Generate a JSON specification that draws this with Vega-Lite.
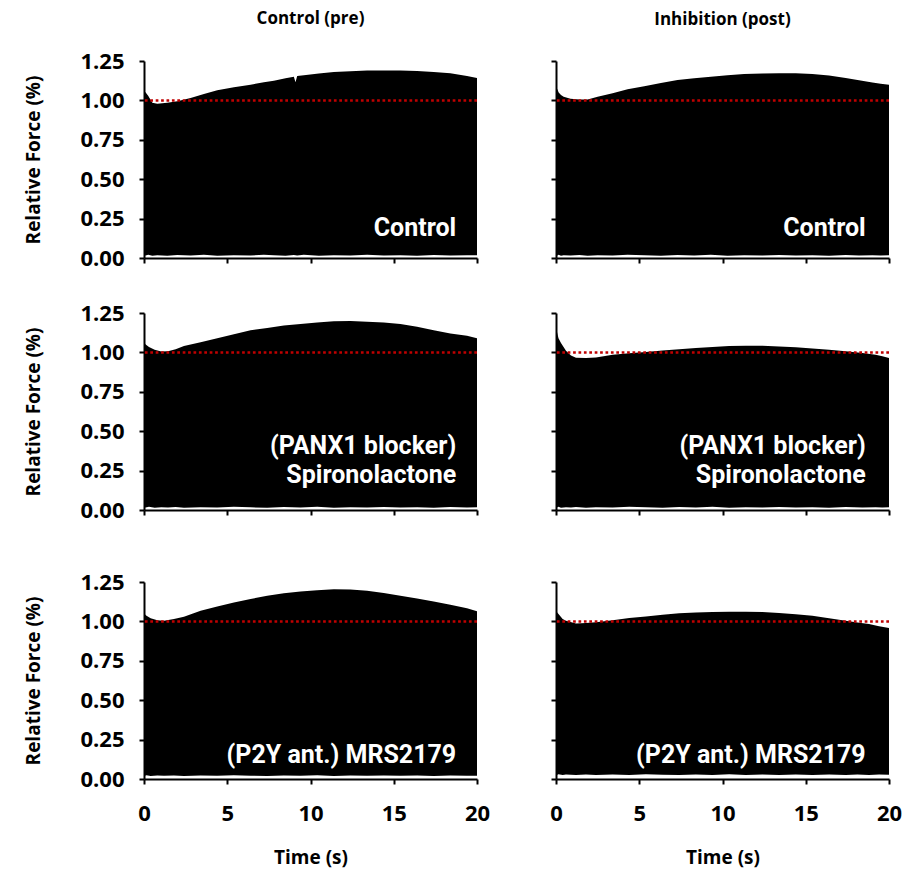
{
  "$schema": "https://vega.github.io/schema/vega-lite/v6.json",
  "background": "white",
  "padding": {"left": 24, "top": 10, "right": 5, "bottom": 5},
  "config": {
    "view": {"stroke": null},
    "font": "Open Sans",
    "axis": {"domainColor": "black", "domainWidth": 2, "tickColor": "black", "tickWidth": 2, "tickSize": 5, "grid": false, "labelFont": "Open Sans", "labelFontWeight": "bold", "labelFontSize": 22, "labelColor": "black", "labelOverlap": false, "titleFont": "Open Sans", "titleFontWeight": "bold", "titleFontSize": 19, "titleColor": "black"},
    "axisX": {"labelPadding": 19, "titlePadding": 24, "labelFlush": false},
    "axisY": {"labelPadding": 15, "titlePadding": 36, "labelOverlap": false},
    "title": {"font": "Open Sans", "fontWeight": "bold", "fontSize": 17, "color": "black", "frame": "group", "anchor": "middle"}
  },
  "datasets": {
    "labels": [
      {"p": "A1", "label": "Control"},
      {"p": "B1", "label": "Control"},
      {"p": "A2", "label": "(PANX1 blocker)\nSpironolactone"},
      {"p": "B2", "label": "(PANX1 blocker)\nSpironolactone"},
      {"p": "A3", "label": "(P2Y ant.) MRS2179"},
      {"p": "B3", "label": "(P2Y ant.) MRS2179"}
    ],
    "env": [
      {"p": "A1", "t": 0, "hi": 1.06, "lo": 0.018},
      {"p": "A1", "t": 0.1, "hi": 1.05, "lo": 0.016},
      {"p": "A1", "t": 0.25, "hi": 1.03, "lo": 0.02},
      {"p": "A1", "t": 0.5, "hi": 0.985, "lo": 0.015},
      {"p": "A1", "t": 0.8, "hi": 0.978, "lo": 0.018},
      {"p": "A1", "t": 1.4, "hi": 0.985, "lo": 0.014},
      {"p": "A1", "t": 2, "hi": 0.995, "lo": 0.019},
      {"p": "A1", "t": 2.8, "hi": 1.015, "lo": 0.016},
      {"p": "A1", "t": 3.6, "hi": 1.04, "lo": 0.02},
      {"p": "A1", "t": 4.4, "hi": 1.064, "lo": 0.015},
      {"p": "A1", "t": 5.4, "hi": 1.083, "lo": 0.018},
      {"p": "A1", "t": 6.4, "hi": 1.1, "lo": 0.016},
      {"p": "A1", "t": 7.2, "hi": 1.115, "lo": 0.02},
      {"p": "A1", "t": 7.8, "hi": 1.125, "lo": 0.017},
      {"p": "A1", "t": 8.5, "hi": 1.14, "lo": 0.015},
      {"p": "A1", "t": 9.0, "hi": 1.15, "lo": 0.019},
      {"p": "A1", "t": 9.1, "hi": 1.115, "lo": 0.018},
      {"p": "A1", "t": 9.2, "hi": 1.155, "lo": 0.016},
      {"p": "A1", "t": 9.6, "hi": 1.16, "lo": 0.02},
      {"p": "A1", "t": 10.5, "hi": 1.17, "lo": 0.015},
      {"p": "A1", "t": 11.4, "hi": 1.18, "lo": 0.018},
      {"p": "A1", "t": 12.4, "hi": 1.185, "lo": 0.016},
      {"p": "A1", "t": 13.4, "hi": 1.19, "lo": 0.02},
      {"p": "A1", "t": 14.4, "hi": 1.19, "lo": 0.016},
      {"p": "A1", "t": 15.4, "hi": 1.19, "lo": 0.018},
      {"p": "A1", "t": 16.4, "hi": 1.187, "lo": 0.015},
      {"p": "A1", "t": 17.4, "hi": 1.18, "lo": 0.019},
      {"p": "A1", "t": 18.4, "hi": 1.172, "lo": 0.016},
      {"p": "A1", "t": 19.4, "hi": 1.155, "lo": 0.018},
      {"p": "A1", "t": 20, "hi": 1.142, "lo": 0.017},

      {"p": "B1", "t": 0, "hi": 1.085, "lo": 0.018},
      {"p": "B1", "t": 0.08, "hi": 1.07, "lo": 0.016},
      {"p": "B1", "t": 0.16, "hi": 1.05, "lo": 0.02},
      {"p": "B1", "t": 0.3, "hi": 1.035, "lo": 0.015},
      {"p": "B1", "t": 0.46, "hi": 1.023, "lo": 0.018},
      {"p": "B1", "t": 0.87, "hi": 1.01, "lo": 0.016},
      {"p": "B1", "t": 1.4, "hi": 1.005, "lo": 0.019},
      {"p": "B1", "t": 1.9, "hi": 1.006, "lo": 0.015},
      {"p": "B1", "t": 2.5, "hi": 1.023, "lo": 0.018},
      {"p": "B1", "t": 3.4, "hi": 1.045, "lo": 0.016},
      {"p": "B1", "t": 4.3, "hi": 1.07, "lo": 0.02},
      {"p": "B1", "t": 5.3, "hi": 1.09, "lo": 0.017},
      {"p": "B1", "t": 6.3, "hi": 1.11, "lo": 0.015},
      {"p": "B1", "t": 7.3, "hi": 1.13, "lo": 0.019},
      {"p": "B1", "t": 8.3, "hi": 1.14, "lo": 0.016},
      {"p": "B1", "t": 9.3, "hi": 1.15, "lo": 0.02},
      {"p": "B1", "t": 10.3, "hi": 1.16, "lo": 0.015},
      {"p": "B1", "t": 11.3, "hi": 1.167, "lo": 0.018},
      {"p": "B1", "t": 12.4, "hi": 1.17, "lo": 0.016},
      {"p": "B1", "t": 13.4, "hi": 1.172, "lo": 0.019},
      {"p": "B1", "t": 14.4, "hi": 1.172, "lo": 0.016},
      {"p": "B1", "t": 15.4, "hi": 1.168, "lo": 0.018},
      {"p": "B1", "t": 16.4, "hi": 1.158, "lo": 0.015},
      {"p": "B1", "t": 17.4, "hi": 1.142, "lo": 0.019},
      {"p": "B1", "t": 18.2, "hi": 1.128, "lo": 0.016},
      {"p": "B1", "t": 19, "hi": 1.113, "lo": 0.018},
      {"p": "B1", "t": 19.5, "hi": 1.105, "lo": 0.016},
      {"p": "B1", "t": 20, "hi": 1.1, "lo": 0.017},

      {"p": "A2", "t": 0, "hi": 1.065, "lo": 0.018},
      {"p": "A2", "t": 0.1, "hi": 1.05, "lo": 0.016},
      {"p": "A2", "t": 0.3, "hi": 1.035, "lo": 0.02},
      {"p": "A2", "t": 0.64, "hi": 1.017, "lo": 0.015},
      {"p": "A2", "t": 1.04, "hi": 1.006, "lo": 0.018},
      {"p": "A2", "t": 1.44, "hi": 1.008, "lo": 0.016},
      {"p": "A2", "t": 1.9, "hi": 1.02, "lo": 0.019},
      {"p": "A2", "t": 2.4, "hi": 1.04, "lo": 0.015},
      {"p": "A2", "t": 3.4, "hi": 1.065, "lo": 0.018},
      {"p": "A2", "t": 4.4, "hi": 1.09, "lo": 0.016},
      {"p": "A2", "t": 5.4, "hi": 1.115, "lo": 0.02},
      {"p": "A2", "t": 6.4, "hi": 1.14, "lo": 0.017},
      {"p": "A2", "t": 7.4, "hi": 1.155, "lo": 0.015},
      {"p": "A2", "t": 8.4, "hi": 1.17, "lo": 0.019},
      {"p": "A2", "t": 9.4, "hi": 1.18, "lo": 0.016},
      {"p": "A2", "t": 10.4, "hi": 1.19, "lo": 0.02},
      {"p": "A2", "t": 11.4, "hi": 1.197, "lo": 0.015},
      {"p": "A2", "t": 12.4, "hi": 1.2, "lo": 0.018},
      {"p": "A2", "t": 13.4, "hi": 1.195, "lo": 0.016},
      {"p": "A2", "t": 14.4, "hi": 1.19, "lo": 0.019},
      {"p": "A2", "t": 15.4, "hi": 1.18, "lo": 0.016},
      {"p": "A2", "t": 16.4, "hi": 1.162, "lo": 0.018},
      {"p": "A2", "t": 17.4, "hi": 1.14, "lo": 0.015},
      {"p": "A2", "t": 18.4, "hi": 1.12, "lo": 0.019},
      {"p": "A2", "t": 19.4, "hi": 1.106, "lo": 0.016},
      {"p": "A2", "t": 20, "hi": 1.09, "lo": 0.017},

      {"p": "B2", "t": 0, "hi": 1.2, "lo": 0.018},
      {"p": "B2", "t": 0.05, "hi": 1.134, "lo": 0.016},
      {"p": "B2", "t": 0.15, "hi": 1.09, "lo": 0.02},
      {"p": "B2", "t": 0.3, "hi": 1.06, "lo": 0.015},
      {"p": "B2", "t": 0.6, "hi": 1.01, "lo": 0.018},
      {"p": "B2", "t": 0.9, "hi": 0.98, "lo": 0.016},
      {"p": "B2", "t": 1.2, "hi": 0.966, "lo": 0.019},
      {"p": "B2", "t": 1.8, "hi": 0.965, "lo": 0.015},
      {"p": "B2", "t": 2.4, "hi": 0.968, "lo": 0.018},
      {"p": "B2", "t": 3.4, "hi": 0.985, "lo": 0.016},
      {"p": "B2", "t": 4.4, "hi": 0.995, "lo": 0.02},
      {"p": "B2", "t": 5.4, "hi": 1.002, "lo": 0.017},
      {"p": "B2", "t": 6.4, "hi": 1.012, "lo": 0.015},
      {"p": "B2", "t": 7.4, "hi": 1.02, "lo": 0.019},
      {"p": "B2", "t": 8.4, "hi": 1.028, "lo": 0.016},
      {"p": "B2", "t": 9.4, "hi": 1.035, "lo": 0.02},
      {"p": "B2", "t": 10.4, "hi": 1.04, "lo": 0.015},
      {"p": "B2", "t": 11.4, "hi": 1.042, "lo": 0.018},
      {"p": "B2", "t": 12.4, "hi": 1.042, "lo": 0.016},
      {"p": "B2", "t": 13.4, "hi": 1.038, "lo": 0.019},
      {"p": "B2", "t": 14.4, "hi": 1.032, "lo": 0.016},
      {"p": "B2", "t": 15.4, "hi": 1.025, "lo": 0.018},
      {"p": "B2", "t": 16.4, "hi": 1.017, "lo": 0.015},
      {"p": "B2", "t": 17.4, "hi": 1.007, "lo": 0.019},
      {"p": "B2", "t": 18.4, "hi": 0.996, "lo": 0.016},
      {"p": "B2", "t": 19.2, "hi": 0.985, "lo": 0.018},
      {"p": "B2", "t": 19.6, "hi": 0.975, "lo": 0.016},
      {"p": "B2", "t": 20, "hi": 0.964, "lo": 0.017},

      {"p": "A3", "t": 0, "hi": 1.05, "lo": 0.022},
      {"p": "A3", "t": 0.05, "hi": 1.045, "lo": 0.02},
      {"p": "A3", "t": 0.15, "hi": 1.036, "lo": 0.024},
      {"p": "A3", "t": 0.4, "hi": 1.02, "lo": 0.019},
      {"p": "A3", "t": 0.8, "hi": 1.008, "lo": 0.022},
      {"p": "A3", "t": 1.2, "hi": 1.004, "lo": 0.02},
      {"p": "A3", "t": 1.8, "hi": 1.015, "lo": 0.023},
      {"p": "A3", "t": 2.4, "hi": 1.03, "lo": 0.019},
      {"p": "A3", "t": 3.4, "hi": 1.068, "lo": 0.022},
      {"p": "A3", "t": 4.4, "hi": 1.095, "lo": 0.02},
      {"p": "A3", "t": 5.4, "hi": 1.12, "lo": 0.024},
      {"p": "A3", "t": 6.4, "hi": 1.142, "lo": 0.021},
      {"p": "A3", "t": 7.4, "hi": 1.163, "lo": 0.019},
      {"p": "A3", "t": 8.4, "hi": 1.178, "lo": 0.023},
      {"p": "A3", "t": 9.4, "hi": 1.19, "lo": 0.02},
      {"p": "A3", "t": 10.4, "hi": 1.198, "lo": 0.024},
      {"p": "A3", "t": 11.4, "hi": 1.204, "lo": 0.019},
      {"p": "A3", "t": 12.4, "hi": 1.202, "lo": 0.022},
      {"p": "A3", "t": 13.4, "hi": 1.195, "lo": 0.02},
      {"p": "A3", "t": 14.4, "hi": 1.18, "lo": 0.023},
      {"p": "A3", "t": 15.4, "hi": 1.163, "lo": 0.02},
      {"p": "A3", "t": 16.4, "hi": 1.146, "lo": 0.022},
      {"p": "A3", "t": 17.4, "hi": 1.127, "lo": 0.019},
      {"p": "A3", "t": 18.4, "hi": 1.106, "lo": 0.023},
      {"p": "A3", "t": 19.4, "hi": 1.083, "lo": 0.02},
      {"p": "A3", "t": 20, "hi": 1.064, "lo": 0.021},

      {"p": "B3", "t": 0, "hi": 1.08, "lo": 0.028},
      {"p": "B3", "t": 0.05, "hi": 1.06, "lo": 0.026},
      {"p": "B3", "t": 0.15, "hi": 1.047, "lo": 0.03},
      {"p": "B3", "t": 0.4, "hi": 1.015, "lo": 0.025},
      {"p": "B3", "t": 0.6, "hi": 1.004, "lo": 0.028},
      {"p": "B3", "t": 1.2, "hi": 0.987, "lo": 0.026},
      {"p": "B3", "t": 1.8, "hi": 0.99, "lo": 0.029},
      {"p": "B3", "t": 2.4, "hi": 0.994, "lo": 0.025},
      {"p": "B3", "t": 3.4, "hi": 1.008, "lo": 0.028},
      {"p": "B3", "t": 4.4, "hi": 1.021, "lo": 0.026},
      {"p": "B3", "t": 5.4, "hi": 1.031, "lo": 0.03},
      {"p": "B3", "t": 6.4, "hi": 1.042, "lo": 0.027},
      {"p": "B3", "t": 7.4, "hi": 1.051, "lo": 0.025},
      {"p": "B3", "t": 8.4, "hi": 1.057, "lo": 0.029},
      {"p": "B3", "t": 9.4, "hi": 1.06, "lo": 0.026},
      {"p": "B3", "t": 10.4, "hi": 1.062, "lo": 0.03},
      {"p": "B3", "t": 11.4, "hi": 1.062, "lo": 0.025},
      {"p": "B3", "t": 12.4, "hi": 1.06, "lo": 0.028},
      {"p": "B3", "t": 13.4, "hi": 1.054, "lo": 0.026},
      {"p": "B3", "t": 14.4, "hi": 1.046, "lo": 0.029},
      {"p": "B3", "t": 15.4, "hi": 1.036, "lo": 0.026},
      {"p": "B3", "t": 16.4, "hi": 1.02, "lo": 0.028},
      {"p": "B3", "t": 17.4, "hi": 1.004, "lo": 0.025},
      {"p": "B3", "t": 18.1, "hi": 0.993, "lo": 0.029},
      {"p": "B3", "t": 18.8, "hi": 0.983, "lo": 0.026},
      {"p": "B3", "t": 19.4, "hi": 0.97, "lo": 0.028},
      {"p": "B3", "t": 20, "hi": 0.958, "lo": 0.027}
    ]
  },
  "spacing": 33,
  "vconcat": [
    {
      "bounds": "flush",
      "spacing": 79,
      "hconcat": [
        {
          "width": 333, "height": 197,
          "title": {"text": "Control (pre)", "offset": 22},
          "layer": [
            {"data": {"name": "env"}, "transform": [{"filter": "datum.p === 'A1'"}],
             "mark": {"type": "area", "color": "black"},
             "encoding": {
               "x": {"field": "t", "type": "quantitative", "scale": {"domain": [0, 20], "nice": false}, "axis": {"values": [0, 5, 10, 15, 20], "tickCount": 10, "labels": false, "title": null}},
               "y": {"field": "hi", "type": "quantitative", "scale": {"domain": [0, 1.25], "nice": false}, "axis": {"values": [0, 0.25, 0.5, 0.75, 1, 1.25], "tickCount": 10, "format": ".2f", "labelOverlap": false, "title": "Relative Force (%)"}},
               "y2": {"field": "lo"}}},
            {"data": {"name": "labels"}, "transform": [{"filter": "datum.p === 'A1'"}],
             "mark": {"type": "rule", "color": "#c00000", "strokeWidth": 2.5, "strokeDash": [2.7, 2.7]},
             "encoding": {"y": {"datum": 1}}},
            {"data": {"name": "labels"}, "transform": [{"filter": "datum.p === 'A1'"}],
             "mark": {"type": "text", "align": "right", "baseline": "alphabetic", "font": "Roboto", "fontSize": 25, "fontWeight": "bold", "color": "white", "lineBreak": "\n", "lineHeight": 29},
             "encoding": {"text": {"field": "label"}, "x": {"datum": 18.75}, "y": {"datum": 0.14}}}
          ]
        },
        {
          "width": 333, "height": 197,
          "title": {"text": "Inhibition (post)", "offset": 31},
          "layer": [
            {"data": {"name": "env"}, "transform": [{"filter": "datum.p === 'B1'"}],
             "mark": {"type": "area", "color": "black"},
             "encoding": {
               "x": {"field": "t", "type": "quantitative", "scale": {"domain": [0, 20], "nice": false}, "axis": {"values": [0, 5, 10, 15, 20], "tickCount": 10, "labels": false, "title": null}},
               "y": {"field": "hi", "type": "quantitative", "scale": {"domain": [0, 1.25], "nice": false}, "axis": {"values": [0, 0.25, 0.5, 0.75, 1, 1.25], "tickCount": 10, "labels": false, "title": null}},
               "y2": {"field": "lo"}}},
            {"data": {"name": "labels"}, "transform": [{"filter": "datum.p === 'B1'"}],
             "mark": {"type": "rule", "color": "#c00000", "strokeWidth": 2.5, "strokeDash": [2.7, 2.7]},
             "encoding": {"y": {"datum": 1}}},
            {"data": {"name": "labels"}, "transform": [{"filter": "datum.p === 'B1'"}],
             "mark": {"type": "text", "align": "right", "baseline": "alphabetic", "font": "Roboto", "fontSize": 25, "fontWeight": "bold", "color": "white", "lineBreak": "\n", "lineHeight": 29},
             "encoding": {"text": {"field": "label"}, "x": {"datum": 18.6}, "y": {"datum": 0.14}}}
          ]
        }
      ]
    },
    {
      "spacing": 50,
      "vconcat": [
        {
          "bounds": "flush",
          "spacing": 79,
          "hconcat": [
            {
              "width": 333, "height": 197,
              "layer": [
                {"data": {"name": "env"}, "transform": [{"filter": "datum.p === 'A2'"}],
                 "mark": {"type": "area", "color": "black"},
                 "encoding": {
                   "x": {"field": "t", "type": "quantitative", "scale": {"domain": [0, 20], "nice": false}, "axis": {"values": [0, 5, 10, 15, 20], "tickCount": 10, "labels": false, "title": null}},
                   "y": {"field": "hi", "type": "quantitative", "scale": {"domain": [0, 1.25], "nice": false}, "axis": {"values": [0, 0.25, 0.5, 0.75, 1, 1.25], "tickCount": 10, "format": ".2f", "labelOverlap": false, "title": "Relative Force (%)"}},
                   "y2": {"field": "lo"}}},
                {"data": {"name": "labels"}, "transform": [{"filter": "datum.p === 'A2'"}],
                 "mark": {"type": "rule", "color": "#c00000", "strokeWidth": 2.5, "strokeDash": [2.7, 2.7]},
                 "encoding": {"y": {"datum": 1}}},
                {"data": {"name": "labels"}, "transform": [{"filter": "datum.p === 'A2'"}],
                 "mark": {"type": "text", "align": "right", "baseline": "alphabetic", "font": "Roboto", "fontSize": 25, "fontWeight": "bold", "color": "white", "lineBreak": "\n", "lineHeight": 29},
                 "encoding": {"text": {"field": "label"}, "x": {"datum": 18.75}, "y": {"datum": 0.355}}}
              ]
            },
            {
              "width": 333, "height": 197,
              "layer": [
                {"data": {"name": "env"}, "transform": [{"filter": "datum.p === 'B2'"}],
                 "mark": {"type": "area", "color": "black"},
                 "encoding": {
                   "x": {"field": "t", "type": "quantitative", "scale": {"domain": [0, 20], "nice": false}, "axis": {"values": [0, 5, 10, 15, 20], "tickCount": 10, "labels": false, "title": null}},
                   "y": {"field": "hi", "type": "quantitative", "scale": {"domain": [0, 1.25], "nice": false}, "axis": {"values": [0, 0.25, 0.5, 0.75, 1, 1.25], "tickCount": 10, "labels": false, "title": null}},
                   "y2": {"field": "lo"}}},
                {"data": {"name": "labels"}, "transform": [{"filter": "datum.p === 'B2'"}],
                 "mark": {"type": "rule", "color": "#c00000", "strokeWidth": 2.5, "strokeDash": [2.7, 2.7]},
                 "encoding": {"y": {"datum": 1}}},
                {"data": {"name": "labels"}, "transform": [{"filter": "datum.p === 'B2'"}],
                 "mark": {"type": "text", "align": "right", "baseline": "alphabetic", "font": "Roboto", "fontSize": 25, "fontWeight": "bold", "color": "white", "lineBreak": "\n", "lineHeight": 29},
                 "encoding": {"text": {"field": "label"}, "x": {"datum": 18.6}, "y": {"datum": 0.355}}}
              ]
            }
          ]
        },
        {
          "bounds": "flush",
          "spacing": 79,
          "hconcat": [
            {
              "width": 333, "height": 197,
              "layer": [
                {"data": {"name": "env"}, "transform": [{"filter": "datum.p === 'A3'"}],
                 "mark": {"type": "area", "color": "black"},
                 "encoding": {
                   "x": {"field": "t", "type": "quantitative", "scale": {"domain": [0, 20], "nice": false}, "axis": {"values": [0, 5, 10, 15, 20], "tickCount": 10, "title": "Time (s)"}},
                   "y": {"field": "hi", "type": "quantitative", "scale": {"domain": [0, 1.25], "nice": false}, "axis": {"values": [0, 0.25, 0.5, 0.75, 1, 1.25], "tickCount": 10, "format": ".2f", "labelOverlap": false, "title": "Relative Force (%)"}},
                   "y2": {"field": "lo"}}},
                {"data": {"name": "labels"}, "transform": [{"filter": "datum.p === 'A3'"}],
                 "mark": {"type": "rule", "color": "#c00000", "strokeWidth": 2.5, "strokeDash": [2.7, 2.7]},
                 "encoding": {"y": {"datum": 1}}},
                {"data": {"name": "labels"}, "transform": [{"filter": "datum.p === 'A3'"}],
                 "mark": {"type": "text", "align": "right", "baseline": "alphabetic", "font": "Roboto", "fontSize": 25, "fontWeight": "bold", "color": "white", "lineBreak": "\n", "lineHeight": 29},
                 "encoding": {"text": {"field": "label"}, "x": {"datum": 18.75}, "y": {"datum": 0.103}}}
              ]
            },
            {
              "width": 333, "height": 197,
              "layer": [
                {"data": {"name": "env"}, "transform": [{"filter": "datum.p === 'B3'"}],
                 "mark": {"type": "area", "color": "black"},
                 "encoding": {
                   "x": {"field": "t", "type": "quantitative", "scale": {"domain": [0, 20], "nice": false}, "axis": {"values": [0, 5, 10, 15, 20], "tickCount": 10, "title": "Time (s)"}},
                   "y": {"field": "hi", "type": "quantitative", "scale": {"domain": [0, 1.25], "nice": false}, "axis": {"values": [0, 0.25, 0.5, 0.75, 1, 1.25], "tickCount": 10, "labels": false, "title": null}},
                   "y2": {"field": "lo"}}},
                {"data": {"name": "labels"}, "transform": [{"filter": "datum.p === 'B3'"}],
                 "mark": {"type": "rule", "color": "#c00000", "strokeWidth": 2.5, "strokeDash": [2.7, 2.7]},
                 "encoding": {"y": {"datum": 1}}},
                {"data": {"name": "labels"}, "transform": [{"filter": "datum.p === 'B3'"}],
                 "mark": {"type": "text", "align": "right", "baseline": "alphabetic", "font": "Roboto", "fontSize": 25, "fontWeight": "bold", "color": "white", "lineBreak": "\n", "lineHeight": 29},
                 "encoding": {"text": {"field": "label"}, "x": {"datum": 18.6}, "y": {"datum": 0.103}}}
              ]
            }
          ]
        }
      ]
    }
  ]
}
